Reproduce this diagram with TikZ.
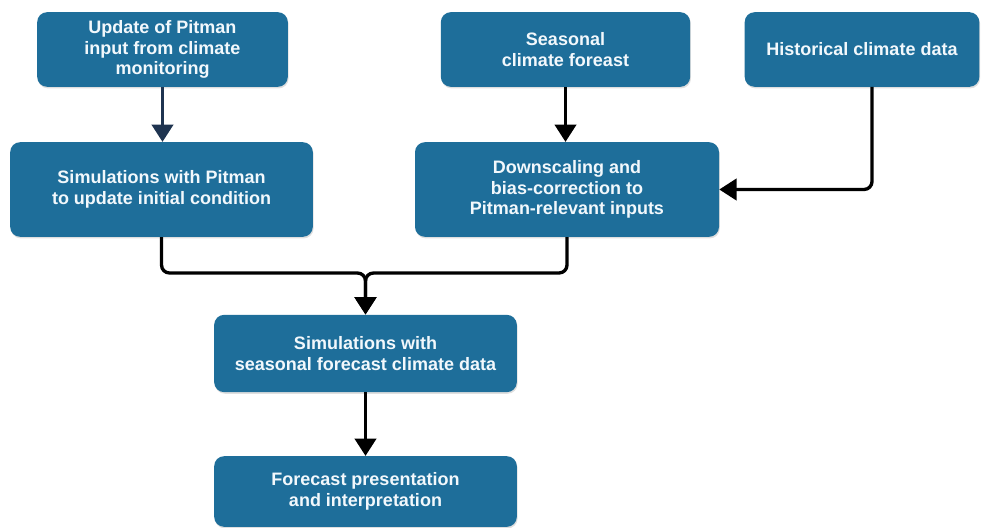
\documentclass[tikz,border=0pt]{standalone}
\usepackage{fontspec}
\setmainfont{Liberation Sans}
\usetikzlibrary{arrows.meta,shadows}

\definecolor{boxblue}{HTML}{1E6E9A}
\definecolor{navyline}{HTML}{1F3450}
\definecolor{boxtext}{HTML}{F2F8FC}

\begin{document}
\begin{tikzpicture}[x=0.75pt,y=-0.75pt,
  stepbox/.style={rectangle, rounded corners=7.5pt, fill=boxblue, text=boxtext,
    font=\bfseries\fontsize{13.5}{15.5}\selectfont, align=center, inner sep=0pt,
    drop shadow={shadow xshift=0.6pt, shadow yshift=-1.2pt, opacity=0.25}},
  flow/.style={line width=2.5pt, draw=black, rounded corners=6pt,
    -{Triangle[width=16pt,length=13pt]}}
]
\useasboundingbox (0,0) rectangle (986,528);

% process boxes
\node[stepbox, minimum width=188pt, minimum height=56pt] (upd) at (162.5,49.5)
  {Update of Pitman\\input from climate\\monitoring};
\node[stepbox, minimum width=227pt, minimum height=71pt] (sim) at (161.5,189.5)
  {Simulations with Pitman\\to update initial condition};
\node[stepbox, minimum width=187pt, minimum height=56pt] (seas) at (565.5,49.5)
  {Seasonal\\climate foreast};
\node[stepbox, minimum width=176pt, minimum height=56pt] (hist) at (862,49.5)
  {Historical climate data};
\node[stepbox, minimum width=228pt, minimum height=71pt] (down) at (567,189.5)
  {Downscaling and\\bias-correction to\\Pitman-relevant inputs};
\node[stepbox, minimum width=227pt, minimum height=58pt] (simfc) at (365.5,353.5)
  {Simulations with\\seasonal forecast climate data};
\node[stepbox, minimum width=227pt, minimum height=53pt] (pres) at (365.5,491.5)
  {Forecast presentation\\and interpretation};

% connectors
\coordinate (histout) at (872,87);
\draw[flow, draw=navyline, -{Triangle[width=16pt,length=13pt]}, navyline]
  (upd.south) -- (upd.south |- sim.north);
\draw[flow] (seas.south) -- (seas.south |- down.north);
\draw[flow] (histout) |- (down.east);
\draw[flow] (sim.south) |- (simfc.north |- 0,273) -- (simfc.north);
\draw[flow] (down.south) |- (simfc.north |- 0,273) -- (simfc.north);
\draw[flow] (simfc.south) -- (pres.north);
\end{tikzpicture}
\end{document}
